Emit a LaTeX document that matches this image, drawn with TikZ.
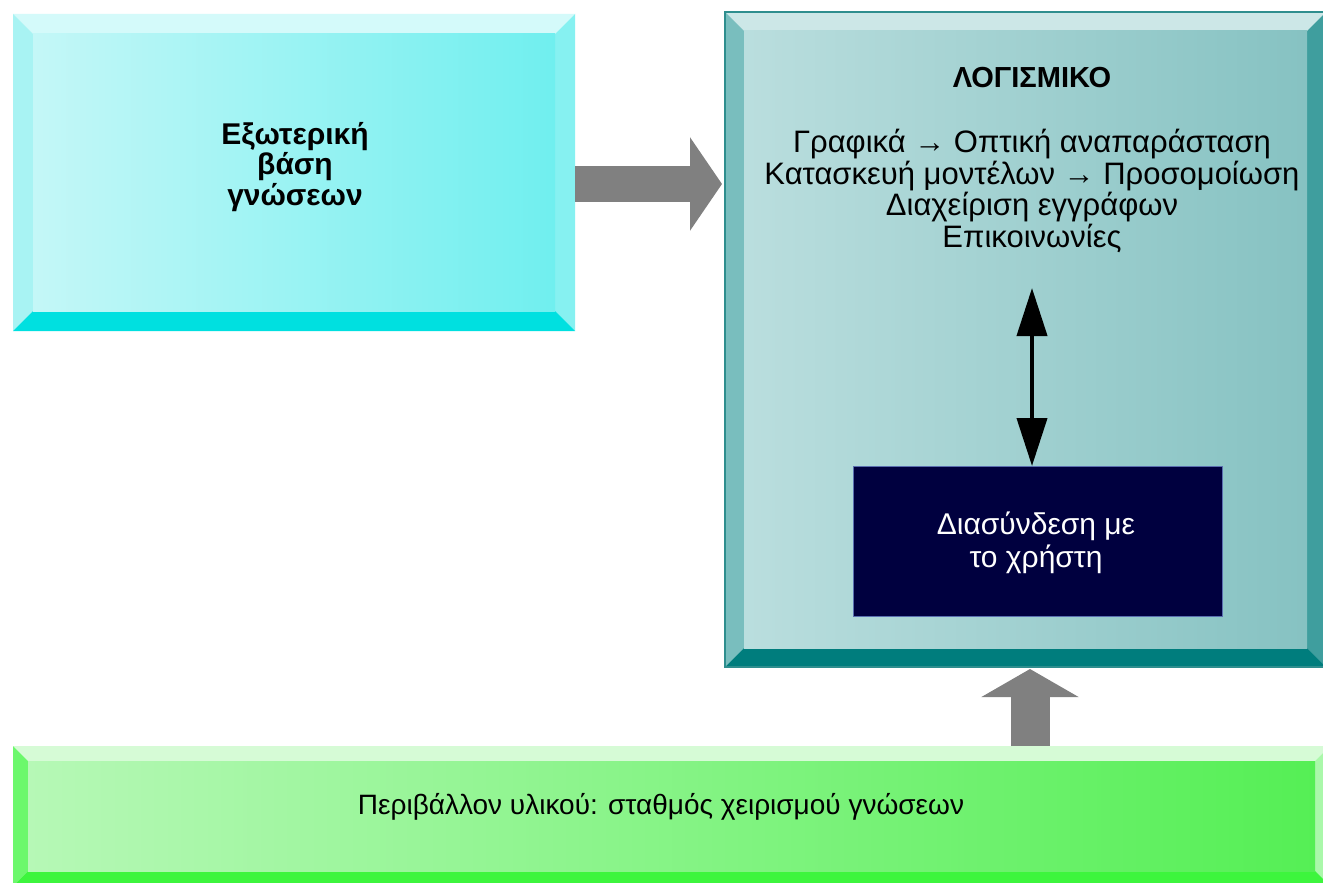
\documentclass[tikz,border=0pt]{standalone}
\usepackage{fontspec}
\setmainfont{Liberation Sans}
\usetikzlibrary{arrows.meta,calc}

% palette
\definecolor{cyFaceL}{HTML}{C4F7F7}
\definecolor{cyFaceR}{HTML}{70EFEF}
\definecolor{cyTop}{HTML}{D4FAFA}
\definecolor{cyLeft}{HTML}{A8F3F3}
\definecolor{cyRight}{HTML}{86F1F1}
\definecolor{cyBot}{HTML}{00E0E0}
\definecolor{tlFaceL}{HTML}{BADEDE}
\definecolor{tlFaceR}{HTML}{86C2C2}
\definecolor{tlTop}{HTML}{CCE7E7}
\definecolor{tlLeft}{HTML}{79BEBE}
\definecolor{tlRight}{HTML}{3F9E9E}
\definecolor{tlBot}{HTML}{007D7D}
\definecolor{tlEdge}{HTML}{2E8E8E}
\definecolor{grFaceL}{HTML}{B6F8B6}
\definecolor{grFaceR}{HTML}{55EF55}
\definecolor{grTop}{HTML}{D6FBD6}
\definecolor{grLeft}{HTML}{6CF86C}
\definecolor{grRight}{HTML}{AAF8AA}
\definecolor{grBot}{HTML}{3DF53D}
\definecolor{navy}{HTML}{00003F}
\definecolor{navyEdge}{HTML}{5A6FB0}
\definecolor{blockgray}{HTML}{808080}

% four bevel strips around the frame node #1 of bevel width #2
\newcommand\bevelframe[6]{%
  \fill[#3] (#1.north west) -- (#1.north east) -- ($(#1.north east)+(-#2,#2)$) -- ($(#1.north west)+(#2,#2)$) -- cycle;
  \fill[#4] (#1.north west) -- ($(#1.north west)+(#2,#2)$) -- ($(#1.south west)+(#2,-#2)$) -- (#1.south west) -- cycle;
  \fill[#5] (#1.north east) -- ($(#1.north east)+(-#2,#2)$) -- ($(#1.south east)+(-#2,-#2)$) -- (#1.south east) -- cycle;
  \fill[#6] (#1.south west) -- ($(#1.south west)+(#2,-#2)$) -- ($(#1.south east)+(-#2,-#2)$) -- (#1.south east) -- cycle;
}

\tikzset{
  frame/.style={rectangle, inner sep=0pt, outer sep=0pt},
  label/.style={align=center, inner sep=0pt, text=black},
  twoway/.style={line width=2pt, {Triangle[length=24pt,width=15pt]}-{Triangle[length=24pt,width=15pt]}},
  blockright/.style={blockgray, line width=17.5pt, -{Triangle[length=16pt,width=46pt]}},
  blockup/.style={blockgray, line width=19.5pt, -{Triangle[length=14pt,width=48pt]}},
}

\begin{document}
\begin{tikzpicture}[x=0.5pt,y=-0.5pt]
\useasboundingbox (0,0) rectangle (1323,883);
\fill[white] (0,0) rectangle (1323,883);

% external knowledge base
\node[frame, minimum width=281pt, minimum height=158.5pt] (kb) at (294,172.5) {};
\bevelframe{kb}{20}{cyTop}{cyLeft}{cyRight}{cyBot}
\shade[left color=cyFaceL, right color=cyFaceR] ($(kb.north west)+(20,20)$) rectangle ($(kb.south east)+(-20,-20)$);
\node[label, font=\fontsize{15}{14}\selectfont\bfseries] (kblabel) at (295,167)
  {Εξωτερική\\βάση\\γνώσεων};

% software block
\node[frame, minimum width=300.5pt, minimum height=327.5pt] (sw) at (1025.5,339.5) {};
\bevelframe{sw}{19}{tlTop}{tlLeft}{tlRight}{tlBot}
\shade[left color=tlFaceL, right color=tlFaceR] ($(sw.north west)+(19,19)$) rectangle ($(sw.south east)+(-19,-19)$);
\draw[tlEdge, line width=0.6pt] (sw.north west) rectangle (sw.south east);
\node[label, font=\fontsize{14.5}{15}\selectfont\bfseries] (swtitle) at (1032,78) {ΛΟΓΙΣΜΙΚΟ};
\node[label, font=\fontsize{15.5}{14.5}\selectfont] (swlist) at (1032,191)
  {Γραφικά → Οπτική αναπαράσταση\\Κατασκευή μοντέλων → Προσομοίωση\\Διαχείριση εγγράφων\\Επικοινωνίες};

% user interface
\node[frame, fill=navy, draw=navyEdge, line width=0.5pt, minimum width=184.5pt, minimum height=75pt] (ui) at (1037.5,541) {};
\node[label, text=white, font=\fontsize{15}{16.5}\selectfont] (uilabel) at (1036,543)
  {Διασύνδεση με\\το χρήστη};
\coordinate (swlink) at (1032,288);
\draw[twoway] (swlink) -- (swlink |- ui.north);

% hardware environment
\node[frame, minimum width=658.5pt, minimum height=70pt] (hw) at (671.5,816) {};
\bevelframe{hw}{15}{grTop}{grLeft}{grRight}{grBot}
\shade[left color=grFaceL, right color=grFaceR] ($(hw.north west)+(15,15)$) rectangle ($(hw.south east)+(-15,-15)$);
\node[label, font=\fontsize{14}{15}\selectfont] (hwlabel) at (661,807)
  {Περιβάλλον υλικού: σταθμός χειρισμού γνώσεων};

% block arrows
\draw[blockright, shorten >=1.5pt] (kb.east |- 0,184) -- (sw.west |- 0,184);
\draw[blockup, shorten >=1pt] (1030,0 |- hw.north) -- (1030,0 |- sw.south);
\end{tikzpicture}
\end{document}
